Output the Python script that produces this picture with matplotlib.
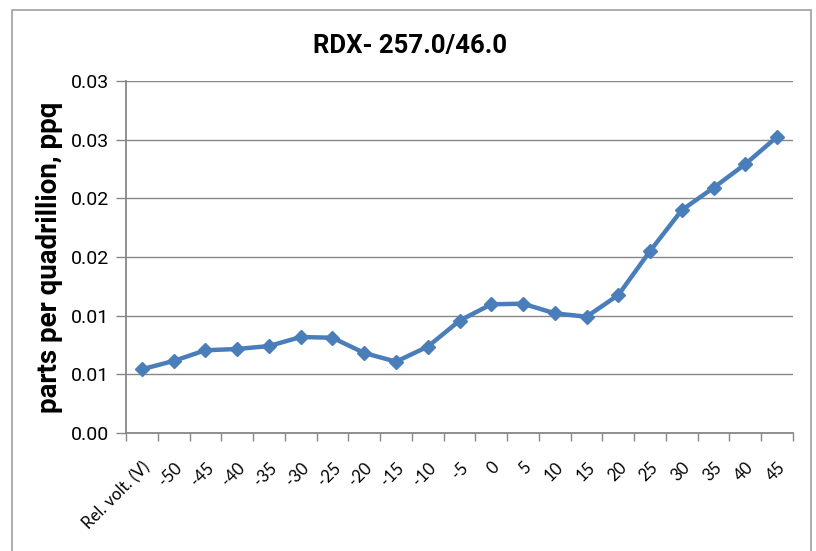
import numpy as np
import matplotlib.pyplot as plt

# category labels and values
categories = ['Rel. volt. (V)', '-50', '-45', '-40', '-35', '-30', '-25', '-20', '-15', '-10',
              '-5', '0', '5', '10', '15', '20', '25', '30', '35', '40', '45']
ppq = [0.00543, 0.00614, 0.00705, 0.00716, 0.00741, 0.00818, 0.00812, 0.00682, 0.00608, 0.00736,
       0.00957, 0.01097, 0.01102, 0.01020, 0.00991, 0.01176, 0.01551, 0.01900, 0.02090, 0.02292,
       0.02525]
yticks = [0.0, 0.005, 0.010, 0.015, 0.020, 0.025, 0.030]
ytick_labels = ['0.00', '0.01', '0.01', '0.02', '0.02', '0.03', '0.03']

NARROW = ['Liberation Sans Narrow', 'Roboto', 'DejaVu Sans']
GRID = '#878787'
BLUE = '#4a7ebb'

fig = plt.figure(figsize=(8.16, 5.51), dpi=100)
# outer chart frame (bottom edge falls outside the picture)
fig.patches.append(plt.Rectangle((12/816, -0.05), (811-12)/816, 1.05-10/551,
                                 transform=fig.transFigure, fill=False,
                                 edgecolor='#a0a0a0', lw=1.2))
ax = fig.add_axes([126/816, 118/551, (793-126)/816, (433-81)/551])

x = np.arange(len(categories))
ax.plot(x, ppq, color=BLUE, lw=3.2, marker='D', ms=7.5, mec=BLUE, mfc=BLUE, zorder=3)

ax.set_xlim(-0.5, len(categories)-0.5)
ax.set_ylim(0, 0.03)
ax.set_yticks(yticks)
ax.set_yticklabels(ytick_labels, family=NARROW, fontsize=14)
ax.yaxis.grid(True, color=GRID, lw=1)
ax.set_axisbelow(True)

ax.set_xticks(x)
ax.set_xticklabels(categories, rotation=45, ha='right', rotation_mode='anchor',
                   family=['Lato', 'DejaVu Sans'], fontsize=12)
ax.set_xticks(np.arange(len(categories)+1)-0.5, minor=True)
ax.tick_params(axis='x', which='major', length=0, pad=19)
ax.tick_params(axis='x', which='minor', length=6, color=GRID, width=1)
ax.tick_params(axis='y', length=7, color=GRID, width=1, pad=5)

for s in ['top', 'right']:
    ax.spines[s].set_visible(False)
for s in ['left', 'bottom']:
    ax.spines[s].set_color(GRID)
    ax.spines[s].set_linewidth(1.3)

ax.set_ylabel('parts per quadrillion, ppq', family=NARROW, fontsize=20, fontweight='bold',
              labelpad=6)
fig.text(410/816, 1-46/551, 'RDX- 257.0/46.0', family=NARROW, fontsize=18.5, fontweight='bold',
         ha='center', va='center')

fig.savefig('out.png', dpi=100)
